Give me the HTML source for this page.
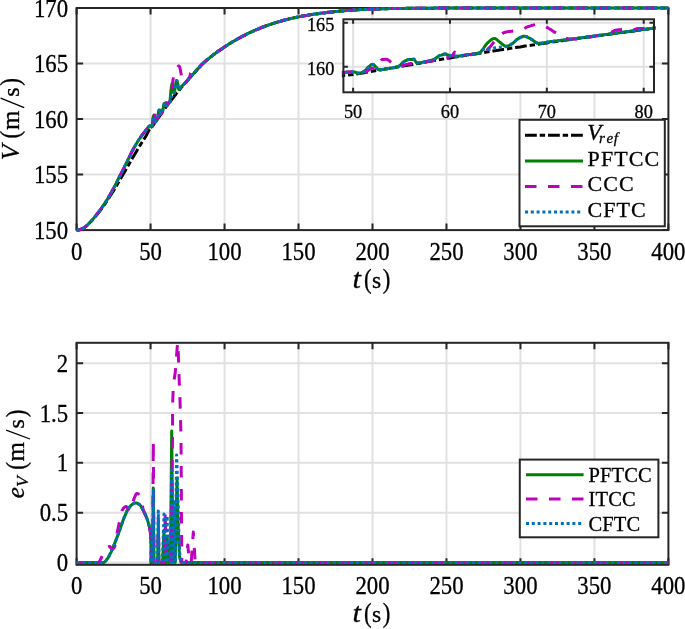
<!DOCTYPE html>
<html><head><meta charset="utf-8"><style>
html,body{margin:0;padding:0;background:#fff;}
body{width:685px;height:629px;overflow:hidden;position:relative;}
svg text{font-family:"Liberation Serif",serif;fill:#000;stroke:#000;stroke-width:0.3px;}
</style></head><body>
<svg width="685" height="629" viewBox="0 0 685 629" style="position:absolute;left:0;top:0;will-change:transform">
<rect width="685" height="629" fill="#fff"/>
<line x1="150.57" y1="8.00" x2="150.57" y2="230.10" stroke="#e1e1e1" stroke-width="2"/><line x1="224.55" y1="8.00" x2="224.55" y2="230.10" stroke="#e1e1e1" stroke-width="2"/><line x1="298.52" y1="8.00" x2="298.52" y2="230.10" stroke="#e1e1e1" stroke-width="2"/><line x1="372.50" y1="8.00" x2="372.50" y2="230.10" stroke="#e1e1e1" stroke-width="2"/><line x1="446.48" y1="8.00" x2="446.48" y2="230.10" stroke="#e1e1e1" stroke-width="2"/><line x1="520.45" y1="8.00" x2="520.45" y2="230.10" stroke="#e1e1e1" stroke-width="2"/><line x1="594.42" y1="8.00" x2="594.42" y2="230.10" stroke="#e1e1e1" stroke-width="2"/><line x1="76.60" y1="174.57" x2="668.40" y2="174.57" stroke="#e1e1e1" stroke-width="2"/><line x1="76.60" y1="119.05" x2="668.40" y2="119.05" stroke="#e1e1e1" stroke-width="2"/><line x1="76.60" y1="63.53" x2="668.40" y2="63.53" stroke="#e1e1e1" stroke-width="2"/>
<clipPath id="c1"><rect x="74.60" y="6.00" width="595.80" height="226.10"/></clipPath>
<path d="M76.60 230.10V223.60M76.60 8.00V14.50M150.57 230.10V223.60M150.57 8.00V14.50M224.55 230.10V223.60M224.55 8.00V14.50M298.52 230.10V223.60M298.52 8.00V14.50M372.50 230.10V223.60M372.50 8.00V14.50M446.48 230.10V223.60M446.48 8.00V14.50M520.45 230.10V223.60M520.45 8.00V14.50M594.42 230.10V223.60M594.42 8.00V14.50M668.40 230.10V223.60M668.40 8.00V14.50M76.60 230.10H83.10M668.40 230.10H661.90M76.60 174.57H83.10M668.40 174.57H661.90M76.60 119.05H83.10M668.40 119.05H661.90M76.60 63.53H83.10M668.40 63.53H661.90M76.60 8.00H83.10M668.40 8.00H661.90" stroke="#262626" stroke-width="2.00" fill="none"/><rect x="76.60" y="8.00" width="591.80" height="222.10" fill="none" stroke="#262626" stroke-width="2.00"/>
<g clip-path="url(#c1)">
<path d="M76.6 230.1L78.1 230.0L79.6 229.7L81.0 229.3L82.5 228.7L84.0 227.7L85.5 226.7L87.0 225.4L88.4 224.0L89.9 222.5L91.4 221.0L92.9 219.4L94.4 217.7L95.8 215.9L97.3 214.2L98.8 212.3L100.3 210.4L101.8 208.5L103.2 206.4L104.7 204.3L106.2 202.1L107.7 199.9L109.1 197.6L110.6 195.3L112.1 193.0L113.6 190.6L115.1 188.2L116.5 185.7L118.0 183.2L119.5 180.6L121.0 178.0L122.5 175.5L123.9 172.9L125.4 170.4L126.9 167.8L128.4 165.2L129.9 162.6L131.3 160.0L132.8 157.5L134.3 154.9L135.8 152.4L137.3 149.9L138.7 147.5L140.2 145.1L141.7 142.8L143.2 140.5L143.5 139.9L144.3 138.7L144.7 138.1L145.0 137.5L145.8 136.3L146.1 135.7L146.5 135.0L147.2 133.6L147.6 132.8L148.0 132.0L148.7 130.6L149.1 130.1L149.5 129.7L150.2 129.1L150.6 128.8L150.9 128.4L151.7 127.3L152.1 126.7L152.4 126.2L153.2 125.2L153.5 124.7L153.9 124.1L154.6 123.1L155.0 122.5L155.4 122.0L156.1 120.9L156.5 120.4L156.9 119.8L157.6 118.8L158.0 118.3L158.3 117.8L159.1 116.8L159.5 116.3L159.8 115.9L160.6 114.8L160.9 114.3L161.3 113.7L162.0 112.5L162.4 112.0L162.8 111.4L163.5 110.3L163.9 109.8L164.3 109.3L165.0 108.3L165.4 107.9L165.7 107.4L166.5 106.4L166.8 105.9L167.2 105.4L168.0 104.5L168.3 104.0L168.7 103.5L169.4 102.5L169.8 102.0L170.2 101.6L170.9 100.6L171.3 100.1L171.7 99.6L172.4 98.6L172.8 98.1L173.1 97.7L173.9 96.7L174.2 96.3L174.6 95.8L175.4 94.9L175.7 94.4L176.1 93.9L176.8 93.0L177.2 92.6L177.6 92.1L178.3 91.2L178.7 90.7L179.1 90.3L179.8 89.4L180.2 88.9L180.5 88.5L181.3 87.6L181.6 87.1L182.0 86.7L182.8 85.8L183.1 85.4L183.5 84.9L184.2 84.1L184.6 83.6L185.0 83.2L185.7 82.4L186.1 82.0L186.5 81.6L187.2 80.7L187.6 80.3L187.9 79.9L188.7 79.1L189.0 78.7L189.4 78.3L190.2 77.5L190.5 77.0L190.9 76.6L191.6 75.8L192.0 75.4L192.4 75.0L193.1 74.2L193.5 73.8L193.9 73.4L194.6 72.6L195.0 72.2L195.3 71.8L196.1 71.0L196.4 70.6L196.8 70.1L197.5 69.3L197.9 68.9L198.3 68.4L199.0 67.6L199.4 67.2L199.8 66.7L200.5 65.9L200.9 65.5L201.2 65.1L202.0 64.3L202.4 64.0L203.8 62.6L205.3 61.3L206.8 60.0L208.3 58.8L209.8 57.6L211.2 56.5L212.7 55.3L214.2 54.2L215.7 53.1L217.2 52.0L218.6 50.9L220.1 49.9L221.6 48.9L223.1 47.9L224.5 46.9L226.0 45.9L227.5 45.0L229.0 44.0L230.5 43.1L231.9 42.2L233.4 41.3L234.9 40.5L236.4 39.6L237.9 38.8L239.3 38.0L240.8 37.2L242.3 36.4L243.8 35.6L245.3 34.9L246.7 34.1L248.2 33.4L249.7 32.7L251.2 32.0L252.7 31.3L254.1 30.7L255.6 30.0L257.1 29.4L258.6 28.8L260.1 28.2L261.5 27.6L263.0 27.0L264.5 26.5L266.0 25.9L267.5 25.4L268.9 24.9L270.4 24.4L271.9 23.9L273.4 23.4L274.9 22.9L276.3 22.5L277.8 22.0L279.3 21.6L280.8 21.1L282.3 20.7L283.7 20.3L285.2 19.9L286.7 19.6L288.2 19.2L289.6 18.8L291.1 18.5L292.6 18.1L294.1 17.8L295.6 17.5L297.0 17.2L298.5 16.9L300.0 16.6L301.5 16.3L303.0 16.0L304.4 15.8L305.9 15.5L307.4 15.3L308.9 15.0L310.4 14.8L311.8 14.6L313.3 14.3L314.8 14.1L316.3 13.9L317.8 13.7L319.2 13.5L320.7 13.3L322.2 13.1L323.7 12.9L325.2 12.7L326.6 12.5L328.1 12.3L329.6 12.2L331.1 12.0L332.6 11.9L334.0 11.7L335.5 11.6L337.0 11.4L338.5 11.3L340.0 11.1L341.4 11.0L342.9 10.9L344.4 10.8L345.9 10.6L347.3 10.5L348.8 10.4L350.3 10.3L351.8 10.2L353.3 10.1L354.7 10.0L356.2 9.9L357.7 9.8L359.2 9.7L360.7 9.6L362.1 9.5L363.6 9.5L365.1 9.4L366.6 9.3L368.1 9.3L369.5 9.2L371.0 9.2L372.5 9.1L374.0 9.1L375.5 9.0L376.9 9.0L378.4 8.9L379.9 8.9L381.4 8.8L382.9 8.8L384.3 8.7L385.8 8.7L387.3 8.7L388.8 8.6L390.3 8.6L391.7 8.6L393.2 8.5L394.7 8.5L396.2 8.5L397.7 8.5L399.1 8.4L400.6 8.4L402.1 8.4L403.6 8.4L405.0 8.4L406.5 8.3L408.0 8.3L409.5 8.3L411.0 8.3L412.4 8.3L413.9 8.3L415.4 8.3L416.9 8.3L418.4 8.2L419.8 8.2L421.3 8.2L422.8 8.2L424.3 8.2L425.8 8.2L427.2 8.2L428.7 8.2L430.2 8.2L431.7 8.2L433.2 8.2L434.6 8.1L436.1 8.1L437.6 8.1L439.1 8.1L440.6 8.1L442.0 8.1L443.5 8.1L445.0 8.1L446.5 8.1L448.0 8.0L449.4 8.0L450.9 8.0L452.4 8.0L453.9 8.0L455.4 8.0L456.8 8.0L458.3 8.0L459.8 8.0L461.3 8.0L462.7 8.0L464.2 8.0L465.7 8.0L467.2 8.0L468.7 8.0L470.1 8.0L471.6 8.0L473.1 8.0L474.6 8.0L476.1 8.0L477.5 8.0L479.0 8.0L480.5 8.0L482.0 8.0L483.5 8.0L484.9 8.0L486.4 8.0L487.9 8.0L489.4 8.0L490.9 8.0L492.3 8.0L493.8 8.0L495.3 8.0L496.8 8.0L498.3 8.0L499.7 8.0L501.2 8.0L502.7 8.0L504.2 8.0L505.7 8.0L507.1 8.0L508.6 8.0L510.1 8.0L511.6 8.0L513.1 8.0L514.5 8.0L516.0 8.0L517.5 8.0L519.0 8.0L520.5 8.0L521.9 8.0L523.4 8.0L524.9 8.0L526.4 8.0L527.8 8.0L529.3 8.0L530.8 8.0L532.3 8.0L533.8 8.0L535.2 8.0L536.7 8.0L538.2 8.0L539.7 8.0L541.2 8.0L542.6 8.0L544.1 8.0L545.6 8.0L547.1 8.0L548.6 8.0L550.0 8.0L551.5 8.0L553.0 8.0L554.5 8.0L556.0 8.0L557.4 8.0L558.9 8.0L560.4 8.0L561.9 8.0L563.4 8.0L564.8 8.0L566.3 8.0L567.8 8.0L569.3 8.0L570.8 8.0L572.2 8.0L573.7 8.0L575.2 8.0L576.7 8.0L578.2 8.0L579.6 8.0L581.1 8.0L582.6 8.0L584.1 8.0L585.5 8.0L587.0 8.0L588.5 8.0L590.0 8.0L591.5 8.0L592.9 8.0L594.4 8.0L595.9 8.0L597.4 8.0L598.9 8.0L600.3 8.0L601.8 8.0L603.3 8.0L604.8 8.0L606.3 8.0L607.7 8.0L609.2 8.0L610.7 8.0L612.2 8.0L613.7 8.0L615.1 8.0L616.6 8.0L618.1 8.0L619.6 8.0L621.1 8.0L622.5 8.0L624.0 8.0L625.5 8.0L627.0 8.0L628.5 8.0L629.9 8.0L631.4 8.0L632.9 8.0L634.4 8.0L635.9 8.0L637.3 8.0L638.8 8.0L640.3 8.0L641.8 8.0L643.2 8.0L644.7 8.0L646.2 8.0L647.7 8.0L649.2 8.0L650.6 8.0L652.1 8.0L653.6 8.0L655.1 8.0L656.6 8.0L658.0 8.0L659.5 8.0L661.0 8.0L662.5 8.0L664.0 8.0L665.4 8.0L666.9 8.0L668.4 8.0" fill="none" stroke="#000000" stroke-width="3.00" stroke-linejoin="round" stroke-linecap="butt" stroke-dasharray="11.8 2.9 5.4 2.9"/>
<path d="M76.6 230.1L78.1 230.0L79.6 229.7L81.0 229.3L82.5 228.7L84.0 227.7L85.5 226.7L87.0 225.5L88.4 224.0L89.9 222.5L91.4 220.9L92.9 219.2L94.4 217.4L95.8 215.6L97.3 213.7L98.8 211.8L100.3 209.8L101.8 207.7L103.2 205.6L104.7 203.4L106.2 201.1L107.7 198.8L109.1 196.3L110.6 193.8L112.1 191.1L113.6 188.3L115.1 185.5L116.5 182.6L118.0 179.7L119.5 176.7L121.0 173.8L122.5 170.9L123.9 168.0L125.4 165.0L126.9 162.0L128.4 158.8L129.9 155.8L131.3 152.9L132.8 150.0L134.3 147.3L135.8 144.7L137.3 142.2L138.7 139.9L140.2 137.8L141.7 135.7L143.2 133.7L143.5 133.3L143.8 132.9L144.1 132.6L144.4 132.2L144.7 131.8L145.0 131.4L145.2 131.1L145.5 130.7L145.8 130.3L146.1 130.0L146.4 129.6L146.7 129.2L147.0 128.9L147.3 128.4L147.6 128.0L147.9 127.6L148.2 127.2L148.5 126.8L148.8 126.5L149.1 126.3L149.4 126.1L149.7 125.9L150.0 125.8L150.3 125.7L150.6 125.6L150.9 125.8L151.2 126.6L151.5 127.1L151.8 126.7L152.1 125.8L152.4 124.5L152.6 121.7L152.9 119.3L153.2 117.1L153.5 115.9L153.8 117.2L154.1 119.8L154.4 122.8L154.7 122.8L155.0 122.5L155.3 122.2L155.6 121.8L155.9 121.4L156.2 121.0L156.5 120.6L156.8 120.2L157.1 119.7L157.4 119.1L157.7 117.8L158.0 115.2L158.3 113.0L158.6 111.6L158.9 110.4L159.2 109.9L159.5 109.9L159.7 109.9L160.0 111.4L160.3 114.3L160.6 114.1L160.9 113.7L161.2 113.2L161.5 112.7L161.8 112.2L162.1 111.7L162.4 111.0L162.7 110.3L163.0 109.3L163.3 107.7L163.6 105.9L163.9 104.7L164.2 103.9L164.5 103.3L164.8 103.3L165.1 104.2L165.4 104.8L165.7 105.2L166.0 105.5L166.3 105.7L166.6 105.7L166.8 105.5L167.1 105.1L167.4 104.6L167.7 104.2L168.0 103.9L168.3 103.7L168.6 103.4L168.9 103.1L169.2 102.8L169.5 102.3L169.8 101.6L170.1 100.0L170.4 96.8L170.7 93.3L171.0 90.0L171.3 87.7L171.6 85.5L171.9 84.0L172.2 83.4L172.5 84.5L172.8 86.6L173.1 88.5L173.4 90.4L173.7 92.3L174.0 93.2L174.2 92.8L174.5 91.6L174.8 90.1L175.1 88.2L175.4 85.9L175.7 84.0L176.0 82.6L176.3 81.3L176.6 80.6L176.9 80.8L177.2 81.8L177.5 83.1L177.8 84.4L178.1 86.1L178.4 87.9L178.7 89.1L179.0 89.5L179.3 89.3L179.6 89.0L179.9 88.6L180.2 88.1L180.5 87.7L180.8 87.3L181.1 87.0L181.3 86.7L181.6 86.4L181.9 86.1L182.2 85.9L182.5 85.6L182.8 85.3L183.1 85.0L183.4 84.7L183.7 84.4L184.0 84.1L184.3 83.8L184.6 83.5L184.9 83.1L185.2 82.8L185.5 82.5L185.8 82.2L186.1 81.8L186.4 81.5L186.7 81.2L187.0 80.8L187.3 80.5L187.6 80.2L187.9 79.9L188.2 79.5L188.5 79.2L188.7 78.9L189.0 78.6L189.3 78.2L189.6 77.9L189.9 77.6L190.2 77.3L190.5 76.9L190.8 76.6L191.1 76.3L191.4 76.0L191.7 75.6L192.0 75.3L192.3 75.0L192.6 74.7L192.9 74.3L193.2 74.0L193.5 73.7L193.8 73.4L194.1 73.0L194.4 72.7L194.7 72.4L195.0 72.0L195.3 71.7L195.6 71.4L195.8 71.1L196.1 70.7L196.4 70.4L196.7 70.1L197.0 69.8L197.3 69.4L197.6 69.1L197.9 68.8L198.2 68.4L198.5 68.1L198.8 67.8L199.1 67.4L199.4 67.1L199.7 66.8L200.0 66.4L200.3 66.1L200.6 65.8L200.9 65.5L201.2 65.2L201.5 64.9L201.8 64.6L202.1 64.3L202.4 64.0L203.8 62.6L205.3 61.3L206.8 60.0L208.3 58.8L209.8 57.6L211.2 56.5L212.7 55.3L214.2 54.2L215.7 53.1L217.2 52.0L218.6 50.9L220.1 49.9L221.6 48.9L223.1 47.9L224.5 46.9L226.0 45.9L227.5 45.0L229.0 44.0L230.5 43.1L231.9 42.2L233.4 41.3L234.9 40.5L236.4 39.6L237.9 38.8L239.3 38.0L240.8 37.2L242.3 36.4L243.8 35.6L245.3 34.9L246.7 34.1L248.2 33.4L249.7 32.7L251.2 32.0L252.7 31.3L254.1 30.7L255.6 30.0L257.1 29.4L258.6 28.8L260.1 28.2L261.5 27.6L263.0 27.0L264.5 26.5L266.0 25.9L267.5 25.4L268.9 24.9L270.4 24.4L271.9 23.9L273.4 23.4L274.9 22.9L276.3 22.5L277.8 22.0L279.3 21.6L280.8 21.1L282.3 20.7L283.7 20.3L285.2 19.9L286.7 19.6L288.2 19.2L289.6 18.8L291.1 18.5L292.6 18.1L294.1 17.8L295.6 17.5L297.0 17.2L298.5 16.9L300.0 16.6L301.5 16.3L303.0 16.0L304.4 15.8L305.9 15.5L307.4 15.3L308.9 15.0L310.4 14.8L311.8 14.6L313.3 14.3L314.8 14.1L316.3 13.9L317.8 13.7L319.2 13.5L320.7 13.3L322.2 13.1L323.7 12.9L325.2 12.7L326.6 12.5L328.1 12.3L329.6 12.2L331.1 12.0L332.6 11.9L334.0 11.7L335.5 11.6L337.0 11.4L338.5 11.3L340.0 11.1L341.4 11.0L342.9 10.9L344.4 10.8L345.9 10.6L347.3 10.5L348.8 10.4L350.3 10.3L351.8 10.2L353.3 10.1L354.7 10.0L356.2 9.9L357.7 9.8L359.2 9.7L360.7 9.6L362.1 9.5L363.6 9.5L365.1 9.4L366.6 9.3L368.1 9.3L369.5 9.2L371.0 9.2L372.5 9.1L374.0 9.1L375.5 9.0L376.9 9.0L378.4 8.9L379.9 8.9L381.4 8.8L382.9 8.8L384.3 8.7L385.8 8.7L387.3 8.7L388.8 8.6L390.3 8.6L391.7 8.6L393.2 8.5L394.7 8.5L396.2 8.5L397.7 8.5L399.1 8.4L400.6 8.4L402.1 8.4L403.6 8.4L405.0 8.4L406.5 8.3L408.0 8.3L409.5 8.3L411.0 8.3L412.4 8.3L413.9 8.3L415.4 8.3L416.9 8.3L418.4 8.2L419.8 8.2L421.3 8.2L422.8 8.2L424.3 8.2L425.8 8.2L427.2 8.2L428.7 8.2L430.2 8.2L431.7 8.2L433.2 8.2L434.6 8.1L436.1 8.1L437.6 8.1L439.1 8.1L440.6 8.1L442.0 8.1L443.5 8.1L445.0 8.1L446.5 8.1L448.0 8.0L449.4 8.0L450.9 8.0L452.4 8.0L453.9 8.0L455.4 8.0L456.8 8.0L458.3 8.0L459.8 8.0L461.3 8.0L462.7 8.0L464.2 8.0L465.7 8.0L467.2 8.0L468.7 8.0L470.1 8.0L471.6 8.0L473.1 8.0L474.6 8.0L476.1 8.0L477.5 8.0L479.0 8.0L480.5 8.0L482.0 8.0L483.5 8.0L484.9 8.0L486.4 8.0L487.9 8.0L489.4 8.0L490.9 8.0L492.3 8.0L493.8 8.0L495.3 8.0L496.8 8.0L498.3 8.0L499.7 8.0L501.2 8.0L502.7 8.0L504.2 8.0L505.7 8.0L507.1 8.0L508.6 8.0L510.1 8.0L511.6 8.0L513.1 8.0L514.5 8.0L516.0 8.0L517.5 8.0L519.0 8.0L520.5 8.0L521.9 8.0L523.4 8.0L524.9 8.0L526.4 8.0L527.8 8.0L529.3 8.0L530.8 8.0L532.3 8.0L533.8 8.0L535.2 8.0L536.7 8.0L538.2 8.0L539.7 8.0L541.2 8.0L542.6 8.0L544.1 8.0L545.6 8.0L547.1 8.0L548.6 8.0L550.0 8.0L551.5 8.0L553.0 8.0L554.5 8.0L556.0 8.0L557.4 8.0L558.9 8.0L560.4 8.0L561.9 8.0L563.4 8.0L564.8 8.0L566.3 8.0L567.8 8.0L569.3 8.0L570.8 8.0L572.2 8.0L573.7 8.0L575.2 8.0L576.7 8.0L578.2 8.0L579.6 8.0L581.1 8.0L582.6 8.0L584.1 8.0L585.5 8.0L587.0 8.0L588.5 8.0L590.0 8.0L591.5 8.0L592.9 8.0L594.4 8.0L595.9 8.0L597.4 8.0L598.9 8.0L600.3 8.0L601.8 8.0L603.3 8.0L604.8 8.0L606.3 8.0L607.7 8.0L609.2 8.0L610.7 8.0L612.2 8.0L613.7 8.0L615.1 8.0L616.6 8.0L618.1 8.0L619.6 8.0L621.1 8.0L622.5 8.0L624.0 8.0L625.5 8.0L627.0 8.0L628.5 8.0L629.9 8.0L631.4 8.0L632.9 8.0L634.4 8.0L635.9 8.0L637.3 8.0L638.8 8.0L640.3 8.0L641.8 8.0L643.2 8.0L644.7 8.0L646.2 8.0L647.7 8.0L649.2 8.0L650.6 8.0L652.1 8.0L653.6 8.0L655.1 8.0L656.6 8.0L658.0 8.0L659.5 8.0L661.0 8.0L662.5 8.0L664.0 8.0L665.4 8.0L666.9 8.0L668.4 8.0" fill="none" stroke="#008000" stroke-width="3.00" stroke-linejoin="round" stroke-linecap="butt"/>
<path d="M76.6 230.1L78.1 230.0L79.6 229.7L81.0 229.3L82.5 228.7L84.0 227.7L85.5 226.7L87.0 225.5L88.4 224.0L89.9 222.5L91.4 220.9L92.9 219.2L94.4 217.4L95.8 215.6L97.3 213.7L98.8 211.8L100.3 209.8L101.8 207.7L103.2 205.6L104.7 203.4L106.2 201.1L107.7 198.8L109.1 196.3L110.6 193.8L112.1 191.1L113.6 188.3L115.1 185.5L116.5 182.6L118.0 179.7L119.5 176.7L121.0 173.8L122.5 170.9L123.9 168.0L125.4 165.0L126.9 162.0L128.4 158.8L129.9 155.8L131.3 152.9L132.8 150.0L134.3 147.3L135.8 144.7L137.3 142.2L138.7 139.9L140.2 137.8L141.7 135.7L143.2 133.7L143.5 133.3L143.8 132.9L144.1 132.6L144.4 132.2L144.7 131.8L145.0 131.5L145.2 131.1L145.5 130.7L145.8 130.4L146.1 130.0L146.4 129.6L146.7 129.2L147.0 128.8L147.3 128.4L147.6 127.9L147.9 127.5L148.2 127.0L148.5 126.6L148.8 126.3L149.1 126.1L149.4 125.9L149.7 125.7L150.0 125.5L150.3 125.4L150.6 125.4L150.9 125.6L151.2 126.7L151.5 127.2L151.8 127.0L152.1 126.6L152.4 125.9L152.6 124.7L152.9 123.2L153.2 121.5L153.5 120.9L153.8 121.6L154.1 121.9L154.4 117.3L154.7 112.7L155.0 110.0L155.3 109.7L155.6 109.6L155.9 110.4L156.2 112.1L156.5 114.1L156.8 116.4L157.1 117.9L157.4 118.7L157.7 118.7L158.0 118.0L158.3 117.1L158.6 116.4L158.9 115.8L159.2 115.2L159.5 114.9L159.7 114.7L160.0 114.6L160.3 114.5L160.6 114.3L160.9 114.0L161.2 113.6L161.5 113.2L161.8 112.8L162.1 112.3L162.4 111.8L162.7 111.3L163.0 110.9L163.3 110.4L163.6 110.0L163.9 109.6L164.2 109.1L164.5 108.6L164.8 108.0L165.1 107.3L165.4 106.4L165.7 105.1L166.0 102.0L166.3 101.0L166.6 105.8L166.8 105.6L167.1 105.1L167.4 104.6L167.7 104.2L168.0 103.9L168.3 103.6L168.6 103.3L168.9 103.0L169.2 102.6L169.5 102.2L169.8 101.8L170.1 101.3L170.4 100.7L170.7 99.9L171.0 98.3L171.3 95.9L171.6 93.2L171.9 89.9L172.2 86.6L172.5 83.9L172.8 81.4L173.1 79.3L173.4 77.3L173.7 75.8L174.0 75.2L174.2 74.8L174.5 74.5L174.8 74.2L175.1 73.9L175.4 73.6L175.7 73.2L176.0 72.7L176.3 72.2L176.6 71.3L176.9 69.9L177.2 68.7L177.5 67.9L177.8 67.1L178.1 66.5L178.4 66.1L178.7 65.9L179.0 66.0L179.3 66.4L179.6 66.8L179.9 67.7L180.2 69.2L180.5 70.8L180.8 72.3L181.1 73.8L181.3 75.4L181.6 76.9L181.9 78.3L182.2 79.8L182.5 81.3L182.8 82.5L183.1 83.2L183.4 83.7L183.7 84.0L184.0 84.2L184.3 84.1L184.6 84.0L184.9 83.8L185.2 83.6L185.5 83.3L185.8 82.9L186.1 82.5L186.4 82.1L186.7 81.7L187.0 81.2L187.3 80.8L187.6 80.3L187.9 79.9L188.2 79.4L188.5 79.0L188.7 78.6L189.0 78.2L189.3 77.7L189.6 77.2L189.9 76.3L190.2 74.8L190.5 73.2L190.8 72.6L191.1 72.5L191.4 72.3L191.7 72.2L192.0 72.2L192.3 72.6L192.6 73.2L192.9 73.5L193.2 73.1L193.5 72.3L193.8 71.4L194.1 71.0L194.4 70.8L194.7 70.7L195.0 70.7L195.3 70.6L195.6 70.6L195.8 70.5L196.1 70.4L196.4 70.4L196.7 70.2L197.0 70.1L197.3 69.9L197.6 69.6L197.9 69.3L198.2 69.0L198.5 68.7L198.8 68.4L199.1 68.0L199.4 67.6L199.7 67.2L200.0 66.8L200.3 66.5L200.6 66.1L200.9 65.7L201.2 65.3L201.5 64.9L201.8 64.6L202.1 64.3L202.4 64.0L203.8 62.6L205.3 61.3L206.8 60.0L208.3 58.8L209.8 57.6L211.2 56.5L212.7 55.3L214.2 54.2L215.7 53.1L217.2 52.0L218.6 50.9L220.1 49.9L221.6 48.9L223.1 47.9L224.5 46.9L226.0 45.9L227.5 45.0L229.0 44.0L230.5 43.1L231.9 42.2L233.4 41.3L234.9 40.5L236.4 39.6L237.9 38.8L239.3 38.0L240.8 37.2L242.3 36.4L243.8 35.6L245.3 34.9L246.7 34.1L248.2 33.4L249.7 32.7L251.2 32.0L252.7 31.3L254.1 30.7L255.6 30.0L257.1 29.4L258.6 28.8L260.1 28.2L261.5 27.6L263.0 27.0L264.5 26.5L266.0 25.9L267.5 25.4L268.9 24.9L270.4 24.4L271.9 23.9L273.4 23.4L274.9 22.9L276.3 22.5L277.8 22.0L279.3 21.6L280.8 21.1L282.3 20.7L283.7 20.3L285.2 19.9L286.7 19.6L288.2 19.2L289.6 18.8L291.1 18.5L292.6 18.1L294.1 17.8L295.6 17.5L297.0 17.2L298.5 16.9L300.0 16.6L301.5 16.3L303.0 16.0L304.4 15.8L305.9 15.5L307.4 15.3L308.9 15.0L310.4 14.8L311.8 14.6L313.3 14.3L314.8 14.1L316.3 13.9L317.8 13.7L319.2 13.5L320.7 13.3L322.2 13.1L323.7 12.9L325.2 12.7L326.6 12.5L328.1 12.3L329.6 12.2L331.1 12.0L332.6 11.9L334.0 11.7L335.5 11.6L337.0 11.4L338.5 11.3L340.0 11.1L341.4 11.0L342.9 10.9L344.4 10.8L345.9 10.6L347.3 10.5L348.8 10.4L350.3 10.3L351.8 10.2L353.3 10.1L354.7 10.0L356.2 9.9L357.7 9.8L359.2 9.7L360.7 9.6L362.1 9.5L363.6 9.5L365.1 9.4L366.6 9.3L368.1 9.3L369.5 9.2L371.0 9.2L372.5 9.1L374.0 9.1L375.5 9.0L376.9 9.0L378.4 8.9L379.9 8.9L381.4 8.8L382.9 8.8L384.3 8.7L385.8 8.7L387.3 8.7L388.8 8.6L390.3 8.6L391.7 8.6L393.2 8.5L394.7 8.5L396.2 8.5L397.7 8.5L399.1 8.4L400.6 8.4L402.1 8.4L403.6 8.4L405.0 8.4L406.5 8.3L408.0 8.3L409.5 8.3L411.0 8.3L412.4 8.3L413.9 8.3L415.4 8.3L416.9 8.3L418.4 8.2L419.8 8.2L421.3 8.2L422.8 8.2L424.3 8.2L425.8 8.2L427.2 8.2L428.7 8.2L430.2 8.2L431.7 8.2L433.2 8.2L434.6 8.1L436.1 8.1L437.6 8.1L439.1 8.1L440.6 8.1L442.0 8.1L443.5 8.1L445.0 8.1L446.5 8.1L448.0 8.0L449.4 8.0L450.9 8.0L452.4 8.0L453.9 8.0L455.4 8.0L456.8 8.0L458.3 8.0L459.8 8.0L461.3 8.0L462.7 8.0L464.2 8.0L465.7 8.0L467.2 8.0L468.7 8.0L470.1 8.0L471.6 8.0L473.1 8.0L474.6 8.0L476.1 8.0L477.5 8.0L479.0 8.0L480.5 8.0L482.0 8.0L483.5 8.0L484.9 8.0L486.4 8.0L487.9 8.0L489.4 8.0L490.9 8.0L492.3 8.0L493.8 8.0L495.3 8.0L496.8 8.0L498.3 8.0L499.7 8.0L501.2 8.0L502.7 8.0L504.2 8.0L505.7 8.0L507.1 8.0L508.6 8.0L510.1 8.0L511.6 8.0L513.1 8.0L514.5 8.0L516.0 8.0L517.5 8.0L519.0 8.0L520.5 8.0L521.9 8.0L523.4 8.0L524.9 8.0L526.4 8.0L527.8 8.0L529.3 8.0L530.8 8.0L532.3 8.0L533.8 8.0L535.2 8.0L536.7 8.0L538.2 8.0L539.7 8.0L541.2 8.0L542.6 8.0L544.1 8.0L545.6 8.0L547.1 8.0L548.6 8.0L550.0 8.0L551.5 8.0L553.0 8.0L554.5 8.0L556.0 8.0L557.4 8.0L558.9 8.0L560.4 8.0L561.9 8.0L563.4 8.0L564.8 8.0L566.3 8.0L567.8 8.0L569.3 8.0L570.8 8.0L572.2 8.0L573.7 8.0L575.2 8.0L576.7 8.0L578.2 8.0L579.6 8.0L581.1 8.0L582.6 8.0L584.1 8.0L585.5 8.0L587.0 8.0L588.5 8.0L590.0 8.0L591.5 8.0L592.9 8.0L594.4 8.0L595.9 8.0L597.4 8.0L598.9 8.0L600.3 8.0L601.8 8.0L603.3 8.0L604.8 8.0L606.3 8.0L607.7 8.0L609.2 8.0L610.7 8.0L612.2 8.0L613.7 8.0L615.1 8.0L616.6 8.0L618.1 8.0L619.6 8.0L621.1 8.0L622.5 8.0L624.0 8.0L625.5 8.0L627.0 8.0L628.5 8.0L629.9 8.0L631.4 8.0L632.9 8.0L634.4 8.0L635.9 8.0L637.3 8.0L638.8 8.0L640.3 8.0L641.8 8.0L643.2 8.0L644.7 8.0L646.2 8.0L647.7 8.0L649.2 8.0L650.6 8.0L652.1 8.0L653.6 8.0L655.1 8.0L656.6 8.0L658.0 8.0L659.5 8.0L661.0 8.0L662.5 8.0L664.0 8.0L665.4 8.0L666.9 8.0L668.4 8.0" fill="none" stroke="#bf00bf" stroke-width="3.00" stroke-linejoin="round" stroke-linecap="butt" stroke-dasharray="11.5 11.5"/>
<path d="M76.6 230.1L78.1 230.0L79.6 229.7L81.0 229.3L82.5 228.7L84.0 227.7L85.5 226.7L87.0 225.5L88.4 224.0L89.9 222.5L91.4 220.9L92.9 219.2L94.4 217.4L95.8 215.6L97.3 213.7L98.8 211.8L100.3 209.8L101.8 207.7L103.2 205.6L104.7 203.4L106.2 201.1L107.7 198.8L109.1 196.3L110.6 193.8L112.1 191.1L113.6 188.3L115.1 185.5L116.5 182.6L118.0 179.7L119.5 176.7L121.0 173.8L122.5 170.9L123.9 168.0L125.4 165.0L126.9 162.0L128.4 158.8L129.9 155.8L131.3 152.9L132.8 150.0L134.3 147.3L135.8 144.7L137.3 142.2L138.7 139.9L140.2 137.8L141.7 135.7L143.2 133.7L143.5 133.3L143.8 132.9L144.1 132.6L144.4 132.2L144.7 131.8L145.0 131.4L145.2 131.1L145.5 130.7L145.8 130.3L146.1 130.0L146.4 129.6L146.7 129.2L147.0 128.9L147.3 128.4L147.6 128.0L147.9 127.6L148.2 127.2L148.5 126.8L148.8 126.5L149.1 126.3L149.4 126.1L149.7 125.9L150.0 125.8L150.3 125.7L150.6 125.6L150.9 125.8L151.2 126.6L151.5 127.1L151.8 126.7L152.1 125.8L152.4 124.5L152.6 121.7L152.9 119.3L153.2 117.4L153.5 116.3L153.8 117.4L154.1 119.8L154.4 122.8L154.7 122.8L155.0 122.5L155.3 122.2L155.6 121.8L155.9 121.4L156.2 121.0L156.5 120.6L156.8 120.2L157.1 119.7L157.4 119.1L157.7 117.8L158.0 115.2L158.3 113.1L158.6 111.7L158.9 110.6L159.2 109.9L159.5 109.4L159.7 109.1L160.0 110.8L160.3 114.3L160.6 114.1L160.9 113.7L161.2 113.2L161.5 112.7L161.8 112.2L162.1 111.7L162.4 111.0L162.7 110.3L163.0 109.3L163.3 107.6L163.6 105.7L163.9 104.4L164.2 103.5L164.5 102.9L164.8 102.8L165.1 104.1L165.4 104.8L165.7 105.2L166.0 105.5L166.3 105.7L166.6 105.7L166.8 105.5L167.1 105.1L167.4 104.6L167.7 104.2L168.0 103.9L168.3 103.6L168.6 103.3L168.9 103.0L169.2 102.7L169.5 102.2L169.8 101.6L170.1 100.3L170.4 97.9L170.7 96.4L171.0 96.6L171.3 96.9L171.6 96.9L171.9 96.2L172.2 95.3L172.5 94.8L172.8 94.6L173.1 94.4L173.4 94.2L173.7 93.9L174.0 93.6L174.2 92.8L174.5 91.6L174.8 90.1L175.1 88.2L175.4 85.9L175.7 84.0L176.0 82.6L176.3 81.3L176.6 80.6L176.9 80.8L177.2 81.8L177.5 83.1L177.8 84.4L178.1 86.1L178.4 87.9L178.7 89.1L179.0 89.5L179.3 89.3L179.6 89.0L179.9 88.6L180.2 88.1L180.5 87.7L180.8 87.3L181.1 87.0L181.3 86.7L181.6 86.4L181.9 86.1L182.2 85.9L182.5 85.6L182.8 85.3L183.1 85.0L183.4 84.7L183.7 84.4L184.0 84.1L184.3 83.8L184.6 83.5L184.9 83.1L185.2 82.8L185.5 82.5L185.8 82.2L186.1 81.8L186.4 81.5L186.7 81.2L187.0 80.8L187.3 80.5L187.6 80.2L187.9 79.9L188.2 79.5L188.5 79.2L188.7 78.9L189.0 78.6L189.3 78.2L189.6 77.9L189.9 77.6L190.2 77.3L190.5 76.9L190.8 76.6L191.1 76.3L191.4 76.0L191.7 75.6L192.0 75.3L192.3 75.0L192.6 74.7L192.9 74.3L193.2 74.0L193.5 73.7L193.8 73.4L194.1 73.0L194.4 72.7L194.7 72.4L195.0 72.0L195.3 71.7L195.6 71.4L195.8 71.1L196.1 70.7L196.4 70.4L196.7 70.1L197.0 69.8L197.3 69.4L197.6 69.1L197.9 68.8L198.2 68.4L198.5 68.1L198.8 67.8L199.1 67.4L199.4 67.1L199.7 66.8L200.0 66.4L200.3 66.1L200.6 65.8L200.9 65.5L201.2 65.2L201.5 64.9L201.8 64.6L202.1 64.3L202.4 64.0L203.8 62.6L205.3 61.3L206.8 60.0L208.3 58.8L209.8 57.6L211.2 56.5L212.7 55.3L214.2 54.2L215.7 53.1L217.2 52.0L218.6 50.9L220.1 49.9L221.6 48.9L223.1 47.9L224.5 46.9L226.0 45.9L227.5 45.0L229.0 44.0L230.5 43.1L231.9 42.2L233.4 41.3L234.9 40.5L236.4 39.6L237.9 38.8L239.3 38.0L240.8 37.2L242.3 36.4L243.8 35.6L245.3 34.9L246.7 34.1L248.2 33.4L249.7 32.7L251.2 32.0L252.7 31.3L254.1 30.7L255.6 30.0L257.1 29.4L258.6 28.8L260.1 28.2L261.5 27.6L263.0 27.0L264.5 26.5L266.0 25.9L267.5 25.4L268.9 24.9L270.4 24.4L271.9 23.9L273.4 23.4L274.9 22.9L276.3 22.5L277.8 22.0L279.3 21.6L280.8 21.1L282.3 20.7L283.7 20.3L285.2 19.9L286.7 19.6L288.2 19.2L289.6 18.8L291.1 18.5L292.6 18.1L294.1 17.8L295.6 17.5L297.0 17.2L298.5 16.9L300.0 16.6L301.5 16.3L303.0 16.0L304.4 15.8L305.9 15.5L307.4 15.3L308.9 15.0L310.4 14.8L311.8 14.6L313.3 14.3L314.8 14.1L316.3 13.9L317.8 13.7L319.2 13.5L320.7 13.3L322.2 13.1L323.7 12.9L325.2 12.7L326.6 12.5L328.1 12.3L329.6 12.2L331.1 12.0L332.6 11.9L334.0 11.7L335.5 11.6L337.0 11.4L338.5 11.3L340.0 11.1L341.4 11.0L342.9 10.9L344.4 10.8L345.9 10.6L347.3 10.5L348.8 10.4L350.3 10.3L351.8 10.2L353.3 10.1L354.7 10.0L356.2 9.9L357.7 9.8L359.2 9.7L360.7 9.6L362.1 9.5L363.6 9.5L365.1 9.4L366.6 9.3L368.1 9.3L369.5 9.2L371.0 9.2L372.5 9.1L374.0 9.1L375.5 9.0L376.9 9.0L378.4 8.9L379.9 8.9L381.4 8.8L382.9 8.8L384.3 8.7L385.8 8.7L387.3 8.7L388.8 8.6L390.3 8.6L391.7 8.6L393.2 8.5L394.7 8.5L396.2 8.5L397.7 8.5L399.1 8.4L400.6 8.4L402.1 8.4L403.6 8.4L405.0 8.4L406.5 8.3L408.0 8.3L409.5 8.3L411.0 8.3L412.4 8.3L413.9 8.3L415.4 8.3L416.9 8.3L418.4 8.2L419.8 8.2L421.3 8.2L422.8 8.2L424.3 8.2L425.8 8.2L427.2 8.2L428.7 8.2L430.2 8.2L431.7 8.2L433.2 8.2L434.6 8.1L436.1 8.1L437.6 8.1L439.1 8.1L440.6 8.1L442.0 8.1L443.5 8.1L445.0 8.1L446.5 8.1L448.0 8.0L449.4 8.0L450.9 8.0L452.4 8.0L453.9 8.0L455.4 8.0L456.8 8.0L458.3 8.0L459.8 8.0L461.3 8.0L462.7 8.0L464.2 8.0L465.7 8.0L467.2 8.0L468.7 8.0L470.1 8.0L471.6 8.0L473.1 8.0L474.6 8.0L476.1 8.0L477.5 8.0L479.0 8.0L480.5 8.0L482.0 8.0L483.5 8.0L484.9 8.0L486.4 8.0L487.9 8.0L489.4 8.0L490.9 8.0L492.3 8.0L493.8 8.0L495.3 8.0L496.8 8.0L498.3 8.0L499.7 8.0L501.2 8.0L502.7 8.0L504.2 8.0L505.7 8.0L507.1 8.0L508.6 8.0L510.1 8.0L511.6 8.0L513.1 8.0L514.5 8.0L516.0 8.0L517.5 8.0L519.0 8.0L520.5 8.0L521.9 8.0L523.4 8.0L524.9 8.0L526.4 8.0L527.8 8.0L529.3 8.0L530.8 8.0L532.3 8.0L533.8 8.0L535.2 8.0L536.7 8.0L538.2 8.0L539.7 8.0L541.2 8.0L542.6 8.0L544.1 8.0L545.6 8.0L547.1 8.0L548.6 8.0L550.0 8.0L551.5 8.0L553.0 8.0L554.5 8.0L556.0 8.0L557.4 8.0L558.9 8.0L560.4 8.0L561.9 8.0L563.4 8.0L564.8 8.0L566.3 8.0L567.8 8.0L569.3 8.0L570.8 8.0L572.2 8.0L573.7 8.0L575.2 8.0L576.7 8.0L578.2 8.0L579.6 8.0L581.1 8.0L582.6 8.0L584.1 8.0L585.5 8.0L587.0 8.0L588.5 8.0L590.0 8.0L591.5 8.0L592.9 8.0L594.4 8.0L595.9 8.0L597.4 8.0L598.9 8.0L600.3 8.0L601.8 8.0L603.3 8.0L604.8 8.0L606.3 8.0L607.7 8.0L609.2 8.0L610.7 8.0L612.2 8.0L613.7 8.0L615.1 8.0L616.6 8.0L618.1 8.0L619.6 8.0L621.1 8.0L622.5 8.0L624.0 8.0L625.5 8.0L627.0 8.0L628.5 8.0L629.9 8.0L631.4 8.0L632.9 8.0L634.4 8.0L635.9 8.0L637.3 8.0L638.8 8.0L640.3 8.0L641.8 8.0L643.2 8.0L644.7 8.0L646.2 8.0L647.7 8.0L649.2 8.0L650.6 8.0L652.1 8.0L653.6 8.0L655.1 8.0L656.6 8.0L658.0 8.0L659.5 8.0L661.0 8.0L662.5 8.0L664.0 8.0L665.4 8.0L666.9 8.0L668.4 8.0" fill="none" stroke="#0072bd" stroke-width="3.00" stroke-linejoin="round" stroke-linecap="butt" stroke-dasharray="3 2.8"/>
</g>
<text transform="translate(76.60 259.70) scale(0.930 1)" text-anchor="middle" font-size="24.5">0</text>
<text transform="translate(150.57 259.70) scale(0.930 1)" text-anchor="middle" font-size="24.5">50</text>
<text transform="translate(224.55 259.70) scale(0.930 1)" text-anchor="middle" font-size="24.5">100</text>
<text transform="translate(298.52 259.70) scale(0.930 1)" text-anchor="middle" font-size="24.5">150</text>
<text transform="translate(372.50 259.70) scale(0.930 1)" text-anchor="middle" font-size="24.5">200</text>
<text transform="translate(446.48 259.70) scale(0.930 1)" text-anchor="middle" font-size="24.5">250</text>
<text transform="translate(520.45 259.70) scale(0.930 1)" text-anchor="middle" font-size="24.5">300</text>
<text transform="translate(594.42 259.70) scale(0.930 1)" text-anchor="middle" font-size="24.5">350</text>
<text transform="translate(668.40 259.70) scale(0.930 1)" text-anchor="middle" font-size="24.5">400</text>
<text transform="translate(68.10 238.60) scale(0.930 1)" text-anchor="end" font-size="24.5">150</text>
<text transform="translate(68.10 183.07) scale(0.930 1)" text-anchor="end" font-size="24.5">155</text>
<text transform="translate(68.10 127.55) scale(0.930 1)" text-anchor="end" font-size="24.5">160</text>
<text transform="translate(68.10 72.03) scale(0.930 1)" text-anchor="end" font-size="24.5">165</text>
<text transform="translate(68.10 16.50) scale(0.930 1)" text-anchor="end" font-size="24.5">170</text>
<text transform="translate(352.43 287.50) scale(1.100 1)" font-size="27.50" font-style="italic">t</text><text transform="translate(363.94 287.80) scale(0.850 1)" font-size="27.00">(</text><text transform="translate(372.00 287.50) scale(1.000 1)" font-size="23.50">s</text><text transform="translate(382.66 287.80) scale(0.850 1)" font-size="27.00">)</text>
<g transform="translate(18.70 160.00) rotate(-90)"><text transform="translate(-0.35 0.00) scale(1.000 1)" font-size="25.50" font-style="italic">V</text><text transform="translate(21.54 0.30) scale(0.850 1)" font-size="27.00">(</text><text transform="translate(30.10 0.00) scale(1.000 1)" font-size="25.00">m</text><text transform="translate(63.30 0.00) scale(1.000 1)" font-size="24.00">s</text><text transform="translate(74.16 0.30) scale(0.850 1)" font-size="27.00">)</text></g>
<line x1="24.2" y1="107.6" x2="0.6" y2="98.1" stroke="#000" stroke-width="1.3"/>
<rect x="519.50" y="119.80" width="145.30" height="106.50" fill="#fff" stroke="#262626" stroke-width="2"/>
<path d="M525.0 135.3L583.0 135.3" fill="none" stroke="#000000" stroke-width="3.00" stroke-linejoin="round" stroke-linecap="butt" stroke-dasharray="11.8 2.9 5.4 2.9"/>
<path d="M525.0 161.0L583.0 161.0" fill="none" stroke="#008000" stroke-width="3.00" stroke-linejoin="round" stroke-linecap="butt"/>
<text x="587.6" y="165.70" font-size="22" letter-spacing="1.05">PFTCC</text>
<path d="M525.0 186.5L583.0 186.5" fill="none" stroke="#bf00bf" stroke-width="3.00" stroke-linejoin="round" stroke-linecap="butt" stroke-dasharray="11.5 11.5"/>
<text x="587.6" y="191.20" font-size="22" letter-spacing="1.05">CCC</text>
<path d="M525.0 212.0L583.0 212.0" fill="none" stroke="#0072bd" stroke-width="3.00" stroke-linejoin="round" stroke-linecap="butt" stroke-dasharray="3 2.8"/>
<text x="587.6" y="216.70" font-size="22" letter-spacing="1.05">CFTC</text>
<text transform="translate(587.15 140.40) scale(1.000 1)" font-size="23.00" font-style="italic">V</text>
<text transform="translate(599.10 143.30) scale(1.000 1)" font-size="15.00" font-style="italic">r</text><text transform="translate(606.50 143.30) scale(1.000 1)" font-size="15.00" font-style="italic">e</text><text transform="translate(613.75 143.30) scale(1.000 1)" font-size="15.00" font-style="italic">f</text>
<rect x="343.40" y="19.30" width="310.60" height="73.00" fill="#fff"/>
<line x1="353.10" y1="19.30" x2="353.10" y2="92.30" stroke="#e1e1e1" stroke-width="2"/><line x1="449.97" y1="19.30" x2="449.97" y2="92.30" stroke="#e1e1e1" stroke-width="2"/><line x1="546.84" y1="19.30" x2="546.84" y2="92.30" stroke="#e1e1e1" stroke-width="2"/><line x1="643.71" y1="19.30" x2="643.71" y2="92.30" stroke="#e1e1e1" stroke-width="2"/><line x1="343.40" y1="66.80" x2="654.00" y2="66.80" stroke="#e1e1e1" stroke-width="2"/><line x1="343.40" y1="22.70" x2="654.00" y2="22.70" stroke="#e1e1e1" stroke-width="2"/>
<clipPath id="ci"><rect x="341.90" y="17.80" width="313.60" height="76.00"/></clipPath>
<g clip-path="url(#ci)">
<path d="M333.7 77.8L336.1 77.1L338.6 76.5L341.0 75.9L343.4 75.5L345.8 75.2L348.3 75.0L350.7 74.8L353.1 74.5L355.5 74.2L357.9 73.8L360.4 73.3L362.8 72.9L365.2 72.5L367.6 72.1L370.1 71.7L372.5 71.2L374.9 70.8L377.3 70.4L379.7 70.0L382.2 69.6L384.6 69.1L387.0 68.7L389.4 68.3L391.8 67.8L394.3 67.4L396.7 67.0L399.1 66.6L401.5 66.2L404.0 65.8L406.4 65.4L408.8 65.0L411.2 64.7L413.6 64.3L416.1 63.9L418.5 63.4L420.9 63.0L423.3 62.6L425.8 62.1L428.2 61.6L430.6 61.2L433.0 60.7L435.4 60.3L437.9 59.9L440.3 59.5L442.7 59.1L445.1 58.7L447.5 58.3L450.0 57.9L452.4 57.5L454.8 57.1L457.2 56.7L459.7 56.4L462.1 56.0L464.5 55.6L466.9 55.2L469.3 54.8L471.8 54.4L474.2 54.1L476.6 53.7L479.0 53.3L481.5 52.9L483.9 52.5L486.3 52.1L488.7 51.7L491.1 51.3L493.6 50.9L496.0 50.6L498.4 50.2L500.8 49.8L503.2 49.4L505.7 49.1L508.1 48.7L510.5 48.3L512.9 48.0L515.4 47.6L517.8 47.2L520.2 46.9L522.6 46.5L525.0 46.1L527.5 45.8L529.9 45.4L532.3 45.0L534.7 44.7L537.2 44.3L539.6 44.0L542.0 43.6L544.4 43.2L546.8 42.9L549.3 42.5L551.7 42.2L554.1 41.8L556.5 41.4L558.9 41.1L561.4 40.7L563.8 40.4L566.2 40.0L568.6 39.7L571.1 39.4L573.5 39.0L575.9 38.7L578.3 38.3L580.7 38.0L583.2 37.7L585.6 37.3L588.0 37.0L590.4 36.7L592.9 36.4L595.3 36.0L597.7 35.7L600.1 35.4L602.5 35.1L605.0 34.7L607.4 34.4L609.8 34.1L612.2 33.8L614.6 33.4L617.1 33.1L619.5 32.8L621.9 32.5L624.3 32.2L626.8 31.8L629.2 31.5L631.6 31.2L634.0 30.9L636.4 30.5L638.9 30.2L641.3 29.9L643.7 29.6L646.1 29.3L648.6 28.9L651.0 28.6L653.4 28.3L655.8 28.0L658.2 27.6L660.7 27.3L663.1 27.0" fill="none" stroke="#000000" stroke-width="3.00" stroke-linejoin="round" stroke-linecap="butt" stroke-dasharray="11.8 2.9 5.4 2.9"/>
<path d="M333.7 73.9L334.7 73.8L335.7 73.6L336.6 73.4L337.6 73.3L338.6 73.1L339.5 73.0L340.5 72.9L341.5 72.7L342.4 72.6L343.4 72.6L344.4 72.5L345.4 72.4L346.3 72.3L347.3 72.3L348.3 72.2L349.2 72.1L350.2 72.1L351.2 72.1L352.1 72.0L353.1 72.0L354.1 72.0L355.0 72.1L356.0 72.5L357.0 72.8L357.9 73.1L358.9 73.2L359.9 73.1L360.8 72.9L361.8 72.6L362.8 72.2L363.8 71.7L364.7 71.1L365.7 70.1L366.7 68.9L367.6 67.8L368.6 67.0L369.6 66.1L370.5 65.3L371.5 64.6L372.5 64.3L373.4 64.5L374.4 65.3L375.4 66.4L376.3 67.4L377.3 68.8L378.3 69.8L379.3 69.8L380.2 69.7L381.2 69.7L382.2 69.6L383.1 69.4L384.1 69.3L385.1 69.1L386.0 69.0L387.0 68.8L388.0 68.6L388.9 68.5L389.9 68.3L390.9 68.2L391.8 68.0L392.8 67.9L393.8 67.7L394.8 67.6L395.7 67.4L396.7 67.1L397.7 66.8L398.6 66.5L399.6 65.8L400.6 64.8L401.5 63.7L402.5 62.7L403.5 62.0L404.4 61.4L405.4 60.8L406.4 60.3L407.3 59.9L408.3 59.6L409.3 59.5L410.3 59.5L411.2 59.5L412.2 59.5L413.2 59.6L414.1 59.7L415.1 60.7L416.1 62.3L417.0 63.0L418.0 63.0L419.0 62.9L419.9 62.7L420.9 62.6L421.9 62.4L422.8 62.2L423.8 61.9L424.8 61.7L425.8 61.5L426.7 61.4L427.7 61.1L428.7 60.9L429.6 60.7L430.6 60.4L431.6 60.2L432.5 59.8L433.5 59.5L434.5 59.1L435.4 58.5L436.4 57.8L437.4 57.1L438.3 56.4L439.3 55.8L440.3 55.4L441.3 55.1L442.2 54.8L443.2 54.5L444.2 54.3L445.1 54.2L446.1 54.3L447.1 54.6L448.0 55.0L449.0 55.3L450.0 55.5L450.9 55.6L451.9 55.8L452.9 55.9L453.8 56.0L454.8 56.1L455.8 56.2L456.8 56.2L457.7 56.2L458.7 56.1L459.7 56.0L460.6 55.9L461.6 55.7L462.6 55.5L463.5 55.3L464.5 55.2L465.5 55.0L466.4 54.9L467.4 54.8L468.4 54.7L469.3 54.6L470.3 54.5L471.3 54.4L472.3 54.3L473.2 54.2L474.2 54.0L475.2 53.9L476.1 53.7L477.1 53.5L478.1 53.3L479.0 53.0L480.0 52.6L481.0 51.7L481.9 50.4L482.9 49.1L483.9 47.8L484.8 46.3L485.8 44.9L486.8 43.7L487.7 42.8L488.7 41.9L489.7 41.0L490.7 40.2L491.6 39.5L492.6 38.9L493.6 38.6L494.5 38.5L495.5 38.8L496.5 39.4L497.4 40.1L498.4 41.0L499.4 41.8L500.3 42.5L501.3 43.3L502.3 44.1L503.2 44.9L504.2 45.5L505.2 46.0L506.2 46.3L507.1 46.2L508.1 46.0L509.1 45.5L510.0 45.0L511.0 44.4L512.0 43.8L512.9 43.2L513.9 42.3L514.9 41.4L515.8 40.5L516.8 39.6L517.8 38.9L518.7 38.4L519.7 37.8L520.7 37.3L521.7 36.8L522.6 36.5L523.6 36.2L524.6 36.2L525.5 36.4L526.5 36.7L527.5 37.2L528.4 37.7L529.4 38.2L530.4 38.7L531.3 39.3L532.3 39.9L533.3 40.6L534.2 41.4L535.2 42.0L536.2 42.6L537.2 43.0L538.1 43.3L539.1 43.3L540.1 43.2L541.0 43.2L542.0 43.1L543.0 42.9L543.9 42.8L544.9 42.6L545.9 42.4L546.8 42.2L547.8 42.0L548.8 41.9L549.7 41.7L550.7 41.6L551.7 41.5L552.7 41.4L553.6 41.2L554.6 41.1L555.6 41.0L556.5 40.9L557.5 40.8L558.5 40.7L559.4 40.6L560.4 40.4L561.4 40.3L562.3 40.2L563.3 40.1L564.3 40.0L565.2 39.9L566.2 39.8L567.2 39.6L568.2 39.5L569.1 39.4L570.1 39.3L571.1 39.2L572.0 39.0L573.0 38.9L574.0 38.8L574.9 38.7L575.9 38.5L576.9 38.4L577.8 38.3L578.8 38.2L579.8 38.0L580.7 37.9L581.7 37.8L582.7 37.6L583.7 37.5L584.6 37.4L585.6 37.2L586.6 37.1L587.5 37.0L588.5 36.9L589.5 36.7L590.4 36.6L591.4 36.5L592.4 36.3L593.3 36.2L594.3 36.1L595.3 35.9L596.2 35.8L597.2 35.7L598.2 35.5L599.1 35.4L600.1 35.3L601.1 35.2L602.1 35.0L603.0 34.9L604.0 34.8L605.0 34.6L605.9 34.5L606.9 34.4L607.9 34.3L608.8 34.1L609.8 34.0L610.8 33.9L611.7 33.7L612.7 33.6L613.7 33.5L614.6 33.3L615.6 33.2L616.6 33.1L617.6 33.0L618.5 32.8L619.5 32.7L620.5 32.6L621.4 32.4L622.4 32.3L623.4 32.2L624.3 32.1L625.3 31.9L626.3 31.8L627.2 31.7L628.2 31.5L629.2 31.4L630.1 31.3L631.1 31.2L632.1 31.0L633.1 30.9L634.0 30.8L635.0 30.6L636.0 30.5L636.9 30.4L637.9 30.2L638.9 30.1L639.8 30.0L640.8 29.9L641.8 29.7L642.7 29.6L643.7 29.5L644.7 29.3L645.6 29.2L646.6 29.1L647.6 29.0L648.6 28.8L649.5 28.7L650.5 28.6L651.5 28.4L652.4 28.3L653.4 28.2L654.4 28.1L655.3 27.9L656.3 27.8L657.3 27.7L658.2 27.5L659.2 27.4L660.2 27.3L661.1 27.1L662.1 27.0L663.1 26.9" fill="none" stroke="#008000" stroke-width="3.00" stroke-linejoin="round" stroke-linecap="butt"/>
<path d="M333.7 73.9L334.7 73.7L335.7 73.5L336.6 73.3L337.6 73.1L338.6 73.0L339.5 72.8L340.5 72.7L341.5 72.5L342.4 72.4L343.4 72.4L344.4 72.3L345.4 72.2L346.3 72.1L347.3 72.1L348.3 72.0L349.2 71.9L350.2 71.9L351.2 71.9L352.1 71.8L353.1 71.8L354.1 71.8L355.0 72.0L356.0 72.4L357.0 72.8L357.9 73.2L358.9 73.3L359.9 73.2L360.8 73.1L361.8 73.0L362.8 72.8L363.8 72.6L364.7 72.3L365.7 71.8L366.7 71.3L367.6 70.7L368.6 70.1L369.6 69.4L370.5 68.7L371.5 68.3L372.5 68.2L373.4 68.5L374.4 68.9L375.4 69.1L376.3 69.1L377.3 67.6L378.3 65.4L379.3 63.6L380.2 61.8L381.2 60.2L382.2 59.6L383.1 59.5L384.1 59.4L385.1 59.3L386.0 59.3L387.0 59.5L388.0 59.9L388.9 60.6L389.9 61.3L390.9 62.1L391.8 62.8L392.8 63.7L393.8 64.7L394.8 65.5L395.7 65.9L396.7 66.3L397.7 66.5L398.6 66.6L399.6 66.5L400.6 66.3L401.5 66.0L402.5 65.6L403.5 65.3L404.4 64.9L405.4 64.7L406.4 64.4L407.3 64.2L408.3 64.0L409.3 63.7L410.3 63.6L411.2 63.5L412.2 63.4L413.2 63.4L414.1 63.3L415.1 63.3L416.1 63.3L417.0 63.2L418.0 63.1L419.0 63.0L419.9 62.9L420.9 62.8L421.9 62.7L422.8 62.5L423.8 62.4L424.8 62.2L425.8 62.0L426.7 61.8L427.7 61.6L428.7 61.4L429.6 61.3L430.6 61.1L431.6 60.9L432.5 60.7L433.5 60.5L434.5 60.3L435.4 60.1L436.4 59.9L437.4 59.8L438.3 59.6L439.3 59.4L440.3 59.3L441.3 59.1L442.2 58.9L443.2 58.7L444.2 58.5L445.1 58.3L446.1 58.0L447.1 57.8L448.0 57.5L449.0 57.1L450.0 56.7L450.9 56.2L451.9 55.7L452.9 54.8L453.8 53.2L454.8 52.0L455.8 52.5L456.8 55.5L457.7 56.3L458.7 56.2L459.7 56.1L460.6 55.9L461.6 55.8L462.6 55.6L463.5 55.4L464.5 55.2L465.5 55.0L466.4 54.9L467.4 54.8L468.4 54.6L469.3 54.5L470.3 54.4L471.3 54.3L472.3 54.1L473.2 54.0L474.2 53.9L475.2 53.8L476.1 53.6L477.1 53.5L478.1 53.3L479.0 53.1L480.0 52.9L481.0 52.7L481.9 52.5L482.9 52.2L483.9 51.9L484.8 51.6L485.8 51.1L486.8 50.3L487.7 49.4L488.7 48.4L489.7 47.3L490.7 46.3L491.6 45.0L492.6 43.7L493.6 42.3L494.5 41.1L495.5 39.9L496.5 38.9L497.4 37.9L498.4 36.9L499.4 36.0L500.3 35.2L501.3 34.4L502.3 33.7L503.2 33.0L504.2 32.5L505.2 32.2L506.2 31.9L507.1 31.8L508.1 31.6L509.1 31.5L510.0 31.4L511.0 31.3L512.0 31.2L512.9 31.1L513.9 31.0L514.9 30.8L515.8 30.7L516.8 30.5L517.8 30.4L518.7 30.2L519.7 30.0L520.7 29.8L521.7 29.6L522.6 29.3L523.6 28.9L524.6 28.3L525.5 27.8L526.5 27.2L527.5 26.8L528.4 26.5L529.4 26.2L530.4 25.9L531.3 25.6L532.3 25.3L533.3 25.1L534.2 24.9L535.2 24.7L536.2 24.6L537.2 24.6L538.1 24.6L539.1 24.7L540.1 24.8L541.0 25.0L542.0 25.1L543.0 25.3L543.9 25.6L544.9 26.0L545.9 26.6L546.8 27.2L547.8 27.9L548.8 28.5L549.7 29.0L550.7 29.6L551.7 30.3L552.7 30.9L553.6 31.5L554.6 32.1L555.6 32.7L556.5 33.3L557.5 33.9L558.5 34.5L559.4 35.0L560.4 35.6L561.4 36.2L562.3 36.8L563.3 37.3L564.3 37.8L565.2 38.1L566.2 38.3L567.2 38.5L568.2 38.7L569.1 38.9L570.1 39.0L571.1 39.1L572.0 39.1L573.0 39.1L574.0 39.1L574.9 39.0L575.9 39.0L576.9 38.9L577.8 38.8L578.8 38.7L579.8 38.6L580.7 38.5L581.7 38.4L582.7 38.3L583.7 38.1L584.6 38.0L585.6 37.8L586.6 37.6L587.5 37.5L588.5 37.3L589.5 37.1L590.4 37.0L591.4 36.8L592.4 36.6L593.3 36.4L594.3 36.2L595.3 36.0L596.2 35.9L597.2 35.7L598.2 35.5L599.1 35.3L600.1 35.2L601.1 35.0L602.1 34.9L603.0 34.7L604.0 34.5L605.0 34.4L605.9 34.2L606.9 34.0L607.9 33.8L608.8 33.5L609.8 33.3L610.8 32.9L611.7 32.3L612.7 31.6L613.7 31.0L614.6 30.4L615.6 30.1L616.6 29.9L617.6 29.9L618.5 29.8L619.5 29.7L620.5 29.7L621.4 29.6L622.4 29.6L623.4 29.6L624.3 29.6L625.3 29.7L626.3 29.9L627.2 30.2L628.2 30.4L629.2 30.5L630.1 30.6L631.1 30.5L632.1 30.3L633.1 30.0L634.0 29.7L635.0 29.3L636.0 29.0L636.9 28.7L637.9 28.6L638.9 28.6L639.8 28.5L640.8 28.5L641.8 28.4L642.7 28.4L643.7 28.4L644.7 28.3L645.6 28.3L646.6 28.3L647.6 28.3L648.6 28.3L649.5 28.2L650.5 28.2L651.5 28.2L652.4 28.2L653.4 28.1L654.4 28.1L655.3 28.0L656.3 28.0L657.3 27.9L658.2 27.8L659.2 27.7L660.2 27.6L661.1 27.5L662.1 27.4L663.1 27.3" fill="none" stroke="#bf00bf" stroke-width="3.00" stroke-linejoin="round" stroke-linecap="butt" stroke-dasharray="11.5 11.5" stroke-dashoffset="14.86"/>
<path d="M333.7 73.9L334.7 73.8L335.7 73.6L336.6 73.4L337.6 73.3L338.6 73.1L339.5 73.0L340.5 72.9L341.5 72.7L342.4 72.6L343.4 72.6L344.4 72.5L345.4 72.4L346.3 72.3L347.3 72.3L348.3 72.2L349.2 72.1L350.2 72.1L351.2 72.1L352.1 72.0L353.1 72.0L354.1 72.0L355.0 72.1L356.0 72.5L357.0 72.8L357.9 73.1L358.9 73.2L359.9 73.1L360.8 72.9L361.8 72.6L362.8 72.2L363.8 71.7L364.7 71.1L365.7 70.1L366.7 68.9L367.6 67.8L368.6 67.0L369.6 66.2L370.5 65.5L371.5 64.9L372.5 64.6L373.4 64.8L374.4 65.5L375.4 66.4L376.3 67.4L377.3 68.8L378.3 69.8L379.3 69.8L380.2 69.7L381.2 69.7L382.2 69.6L383.1 69.4L384.1 69.3L385.1 69.1L386.0 69.0L387.0 68.8L388.0 68.6L388.9 68.5L389.9 68.3L390.9 68.2L391.8 68.0L392.8 67.9L393.8 67.7L394.8 67.6L395.7 67.4L396.7 67.1L397.7 66.8L398.6 66.5L399.6 65.8L400.6 64.8L401.5 63.7L402.5 62.7L403.5 62.0L404.4 61.5L405.4 60.9L406.4 60.5L407.3 60.1L408.3 59.7L409.3 59.5L410.3 59.3L411.2 59.1L412.2 59.0L413.2 58.9L414.1 59.0L415.1 60.3L416.1 62.1L417.0 63.0L418.0 63.0L419.0 62.9L419.9 62.7L420.9 62.6L421.9 62.4L422.8 62.2L423.8 61.9L424.8 61.7L425.8 61.5L426.7 61.4L427.7 61.1L428.7 60.9L429.6 60.7L430.6 60.4L431.6 60.2L432.5 59.9L433.5 59.5L434.5 59.1L435.4 58.5L436.4 57.7L437.4 57.0L438.3 56.2L439.3 55.6L440.3 55.2L441.3 54.8L442.2 54.5L443.2 54.2L444.2 53.9L445.1 53.8L446.1 53.9L447.1 54.3L448.0 54.9L449.0 55.3L450.0 55.5L450.9 55.6L451.9 55.8L452.9 55.9L453.8 56.0L454.8 56.1L455.8 56.2L456.8 56.2L457.7 56.2L458.7 56.1L459.7 56.0L460.6 55.9L461.6 55.7L462.6 55.5L463.5 55.3L464.5 55.2L465.5 55.0L466.4 54.9L467.4 54.8L468.4 54.7L469.3 54.6L470.3 54.4L471.3 54.3L472.3 54.2L473.2 54.1L474.2 53.9L475.2 53.8L476.1 53.6L477.1 53.4L478.1 53.2L479.0 53.0L480.0 52.6L481.0 51.9L481.9 51.0L482.9 50.0L483.9 49.2L484.8 48.8L485.8 48.8L486.8 48.9L487.7 49.1L488.7 49.2L489.7 49.3L490.7 49.2L491.6 49.0L492.6 48.6L493.6 48.2L494.5 47.9L495.5 47.7L496.5 47.6L497.4 47.5L498.4 47.4L499.4 47.3L500.3 47.2L501.3 47.1L502.3 47.1L503.2 47.0L504.2 46.8L505.2 46.7L506.2 46.5L507.1 46.3L508.1 46.0L509.1 45.5L510.0 45.0L511.0 44.4L512.0 43.8L512.9 43.1L513.9 42.3L514.9 41.4L515.8 40.5L516.8 39.6L517.8 38.9L518.7 38.4L519.7 37.8L520.7 37.3L521.7 36.8L522.6 36.5L523.6 36.2L524.6 36.2L525.5 36.4L526.5 36.7L527.5 37.2L528.4 37.7L529.4 38.2L530.4 38.7L531.3 39.3L532.3 39.9L533.3 40.6L534.2 41.4L535.2 42.0L536.2 42.6L537.2 43.0L538.1 43.3L539.1 43.3L540.1 43.2L541.0 43.2L542.0 43.1L543.0 42.9L543.9 42.8L544.9 42.6L545.9 42.4L546.8 42.2L547.8 42.0L548.8 41.9L549.7 41.7L550.7 41.6L551.7 41.5L552.7 41.4L553.6 41.2L554.6 41.1L555.6 41.0L556.5 40.9L557.5 40.8L558.5 40.7L559.4 40.6L560.4 40.4L561.4 40.3L562.3 40.2L563.3 40.1L564.3 40.0L565.2 39.9L566.2 39.8L567.2 39.6L568.2 39.5L569.1 39.4L570.1 39.3L571.1 39.2L572.0 39.0L573.0 38.9L574.0 38.8L574.9 38.7L575.9 38.5L576.9 38.4L577.8 38.3L578.8 38.2L579.8 38.0L580.7 37.9L581.7 37.8L582.7 37.6L583.7 37.5L584.6 37.4L585.6 37.2L586.6 37.1L587.5 37.0L588.5 36.9L589.5 36.7L590.4 36.6L591.4 36.5L592.4 36.3L593.3 36.2L594.3 36.1L595.3 35.9L596.2 35.8L597.2 35.7L598.2 35.5L599.1 35.4L600.1 35.3L601.1 35.2L602.1 35.0L603.0 34.9L604.0 34.8L605.0 34.6L605.9 34.5L606.9 34.4L607.9 34.3L608.8 34.1L609.8 34.0L610.8 33.9L611.7 33.7L612.7 33.6L613.7 33.5L614.6 33.3L615.6 33.2L616.6 33.1L617.6 33.0L618.5 32.8L619.5 32.7L620.5 32.6L621.4 32.4L622.4 32.3L623.4 32.2L624.3 32.1L625.3 31.9L626.3 31.8L627.2 31.7L628.2 31.5L629.2 31.4L630.1 31.3L631.1 31.2L632.1 31.0L633.1 30.9L634.0 30.8L635.0 30.6L636.0 30.5L636.9 30.4L637.9 30.2L638.9 30.1L639.8 30.0L640.8 29.9L641.8 29.7L642.7 29.6L643.7 29.5L644.7 29.3L645.6 29.2L646.6 29.1L647.6 29.0L648.6 28.8L649.5 28.7L650.5 28.6L651.5 28.4L652.4 28.3L653.4 28.2L654.4 28.1L655.3 27.9L656.3 27.8L657.3 27.7L658.2 27.5L659.2 27.4L660.2 27.3L661.1 27.1L662.1 27.0L663.1 26.9" fill="none" stroke="#0072bd" stroke-width="3.00" stroke-linejoin="round" stroke-linecap="butt" stroke-dasharray="3 2.8"/>
</g>
<path d="M353.10 92.30V87.80M353.10 19.30V23.80M449.97 92.30V87.80M449.97 19.30V23.80M546.84 92.30V87.80M546.84 19.30V23.80M643.71 92.30V87.80M643.71 19.30V23.80M343.40 66.80H347.90M654.00 66.80H649.50M343.40 22.70H347.90M654.00 22.70H649.50" stroke="#262626" stroke-width="2.00" fill="none"/><rect x="343.40" y="19.30" width="310.60" height="73.00" fill="none" stroke="#262626" stroke-width="2.00"/>
<text transform="translate(353.10 117.60) scale(0.940 1)" text-anchor="middle" font-size="19.5">50</text>
<text transform="translate(449.97 117.60) scale(0.940 1)" text-anchor="middle" font-size="19.5">60</text>
<text transform="translate(546.84 117.60) scale(0.940 1)" text-anchor="middle" font-size="19.5">70</text>
<text transform="translate(643.71 117.60) scale(0.940 1)" text-anchor="middle" font-size="19.5">80</text>
<text transform="translate(334.40 74.80) scale(0.940 1)" text-anchor="end" font-size="19.5">160</text>
<text transform="translate(334.40 30.70) scale(0.940 1)" text-anchor="end" font-size="19.5">165</text>
<line x1="150.57" y1="342.80" x2="150.57" y2="564.80" stroke="#e1e1e1" stroke-width="2"/><line x1="224.55" y1="342.80" x2="224.55" y2="564.80" stroke="#e1e1e1" stroke-width="2"/><line x1="298.52" y1="342.80" x2="298.52" y2="564.80" stroke="#e1e1e1" stroke-width="2"/><line x1="372.50" y1="342.80" x2="372.50" y2="564.80" stroke="#e1e1e1" stroke-width="2"/><line x1="446.48" y1="342.80" x2="446.48" y2="564.80" stroke="#e1e1e1" stroke-width="2"/><line x1="520.45" y1="342.80" x2="520.45" y2="564.80" stroke="#e1e1e1" stroke-width="2"/><line x1="594.42" y1="342.80" x2="594.42" y2="564.80" stroke="#e1e1e1" stroke-width="2"/><line x1="76.60" y1="562.50" x2="668.40" y2="562.50" stroke="#e1e1e1" stroke-width="2"/><line x1="76.60" y1="512.67" x2="668.40" y2="512.67" stroke="#e1e1e1" stroke-width="2"/><line x1="76.60" y1="462.85" x2="668.40" y2="462.85" stroke="#e1e1e1" stroke-width="2"/><line x1="76.60" y1="413.02" x2="668.40" y2="413.02" stroke="#e1e1e1" stroke-width="2"/><line x1="76.60" y1="363.20" x2="668.40" y2="363.20" stroke="#e1e1e1" stroke-width="2"/>
<path d="M76.60 564.80V558.30M76.60 342.80V349.30M150.57 564.80V558.30M150.57 342.80V349.30M224.55 564.80V558.30M224.55 342.80V349.30M298.52 564.80V558.30M298.52 342.80V349.30M372.50 564.80V558.30M372.50 342.80V349.30M446.48 564.80V558.30M446.48 342.80V349.30M520.45 564.80V558.30M520.45 342.80V349.30M594.42 564.80V558.30M594.42 342.80V349.30M668.40 564.80V558.30M668.40 342.80V349.30M76.60 562.50H83.10M668.40 562.50H661.90M76.60 512.67H83.10M668.40 512.67H661.90M76.60 462.85H83.10M668.40 462.85H661.90M76.60 413.02H83.10M668.40 413.02H661.90M76.60 363.20H83.10M668.40 363.20H661.90" stroke="#262626" stroke-width="2.00" fill="none"/><rect x="76.60" y="342.80" width="591.80" height="222.00" fill="none" stroke="#262626" stroke-width="2.00"/>
<clipPath id="c2"><rect x="74.60" y="340.80" width="595.80" height="226.00"/></clipPath>
<g clip-path="url(#c2)">
<path d="M76.6 562.5L103.9 562.5L104.4 562.1L104.9 561.7L105.4 561.2L105.9 560.6L106.4 560.0L106.9 559.4L107.4 558.7L107.9 558.0L108.4 557.2L108.9 556.4L109.4 555.4L109.9 554.4L110.4 553.4L110.9 552.4L111.4 551.3L111.9 550.2L112.4 549.1L112.9 547.9L113.4 546.7L113.9 545.4L114.4 544.1L114.9 542.8L115.4 541.6L115.9 540.3L116.4 539.0L116.9 537.7L117.4 536.3L117.9 535.0L118.4 533.7L118.9 532.3L119.4 530.9L119.9 529.6L120.4 528.2L120.9 526.8L121.4 525.3L121.9 523.8L122.4 522.4L122.9 520.9L123.4 519.5L123.9 518.2L124.4 517.0L124.9 515.8L125.4 514.6L125.9 513.5L126.4 512.4L126.9 511.3L127.4 510.4L127.9 509.6L128.4 508.8L128.9 508.1L129.4 507.3L129.9 506.7L130.4 506.1L130.9 505.5L131.4 505.1L131.9 504.7L132.4 504.3L132.9 504.0L133.4 503.7L133.9 503.4L134.4 503.2L134.9 503.0L135.4 502.9L135.9 502.9L136.4 503.0L136.9 503.1L137.4 503.3L137.9 503.6L138.4 503.9L138.9 504.2L139.4 504.5L139.9 504.9L140.4 505.5L140.9 506.2L141.4 507.0L141.9 507.9L142.4 508.8L142.9 509.7L143.4 510.6L143.9 511.5L144.4 512.5L144.9 513.5L145.4 514.6L145.9 515.8L146.4 517.0L146.9 518.4L147.4 519.8L147.9 521.4L148.4 523.1L148.9 525.0L149.4 527.0L149.9 529.2L150.4 531.5L150.5 532.0L151.0 545.0L151.4 562.5L152.6 562.5L153.3 488.0L154.0 562.5L157.6 562.5L158.3 524.0L159.0 562.5L162.6 562.5L164.0 530.0L165.4 562.5L166.6 562.5L167.3 538.0L168.0 562.5L170.4 562.5L171.7 431.0L172.9 562.5L174.3 520.0L175.2 562.5L177.0 478.0L178.3 530.0L179.4 556.0L181.0 562.5L668.4 562.5" fill="none" stroke="#008000" stroke-width="3.00" stroke-linejoin="round" stroke-linecap="butt"/>
<path d="M76.6 562.5L99.0 562.5L99.5 561.5L100.0 560.5L100.5 559.5L101.0 558.5L101.5 557.5L102.0 556.5L102.5 555.5L103.0 554.5L103.5 553.5L104.0 552.4L104.5 551.2L105.0 549.9L105.5 548.8L106.0 548.0L106.5 547.5L107.0 547.3L107.5 547.0L108.0 546.9L108.5 546.7L109.0 546.6L109.5 546.5L110.0 546.5L110.5 547.0L111.0 548.0L111.5 549.0L112.0 549.5L112.5 549.4L113.0 549.0L113.5 548.5L114.0 547.8L114.5 547.0L115.0 545.5L115.5 542.9L116.0 539.7L116.5 536.4L117.0 533.5L117.5 531.0L118.0 528.5L118.5 526.2L119.0 523.8L119.5 521.5L120.0 519.0L120.5 516.4L121.0 513.9L121.5 511.8L122.0 510.5L122.5 509.7L123.0 508.9L123.5 508.2L124.0 507.6L124.5 507.2L125.0 506.8L125.5 506.6L126.0 506.5L126.5 506.7L127.0 507.2L127.5 507.9L128.0 508.8L128.5 509.6L129.0 510.3L129.5 510.8L130.0 511.0L130.5 510.5L131.0 509.1L131.5 507.2L132.0 505.1L132.5 503.1L133.0 501.5L133.5 500.2L134.0 498.9L134.5 497.5L135.0 496.3L135.5 495.2L136.0 494.3L136.5 493.7L137.0 493.5L137.5 493.6L138.0 493.8L138.5 494.1L139.0 494.6L139.5 495.2L140.0 495.9L140.5 496.6L141.0 497.5L141.5 499.3L142.0 502.5L142.5 506.0L143.0 509.1L143.5 511.0L144.0 512.3L144.5 513.4L145.0 514.4L145.5 515.4L146.0 516.5L146.5 517.7L147.0 519.0L147.5 520.3L148.0 521.8L148.5 523.5L149.0 525.5L149.5 528.0L150.0 530.7L150.4 533.0L150.8 545.0L151.2 562.5L152.6 562.5L153.3 441.0L154.0 562.5L157.6 562.5L158.3 518.0L159.0 562.5L164.3 562.5L165.2 512.0L166.1 562.5L171.2 562.5" fill="none" stroke="#bf00bf" stroke-width="3.00" stroke-linejoin="round" stroke-linecap="butt" stroke-dasharray="11.5 11.5" stroke-dashoffset="5.04"/>
<path d="M171.2 562.5L172.0 480.0L172.5 437.0L172.6 404.0L173.4 385.0L175.3 372.0L176.4 358.0L177.4 345.2" fill="none" stroke="#bf00bf" stroke-width="3.00" stroke-linejoin="round" stroke-linecap="butt" stroke-dasharray="11.5 11.5" stroke-dashoffset="0.96"/>
<path d="M177.4 345.2L178.2 350.0L179.2 380.0L180.1 403.0L180.7 426.0L181.1 449.0L181.5 520.0L181.8 562.5L186.0 562.5L187.8 545.0L189.5 562.5L191.2 562.5L193.3 532.0L195.2 562.5L668.4 562.5" fill="none" stroke="#bf00bf" stroke-width="3.00" stroke-linejoin="round" stroke-linecap="butt" stroke-dasharray="11.5 11.5" stroke-dashoffset="17.00"/>
<path d="M76.6 562.5L103.9 562.5L104.4 562.1L104.9 561.7L105.4 561.2L105.9 560.6L106.4 560.0L106.9 559.4L107.4 558.7L107.9 558.0L108.4 557.2L108.9 556.4L109.4 555.4L109.9 554.4L110.4 553.4L110.9 552.4L111.4 551.3L111.9 550.2L112.4 549.1L112.9 547.9L113.4 546.7L113.9 545.4L114.4 544.1L114.9 542.8L115.4 541.6L115.9 540.3L116.4 539.0L116.9 537.7L117.4 536.3L117.9 535.0L118.4 533.7L118.9 532.3L119.4 530.9L119.9 529.6L120.4 528.2L120.9 526.8L121.4 525.3L121.9 523.8L122.4 522.4L122.9 520.9L123.4 519.5L123.9 518.2L124.4 517.0L124.9 515.8L125.4 514.6L125.9 513.5L126.4 512.4L126.9 511.3L127.4 510.4L127.9 509.6L128.4 508.8L128.9 508.1L129.4 507.3L129.9 506.7L130.4 506.1L130.9 505.5L131.4 505.1L131.9 504.7L132.4 504.3L132.9 504.0L133.4 503.7L133.9 503.4L134.4 503.2L134.9 503.0L135.4 502.9L135.9 502.9L136.4 503.0L136.9 503.1L137.4 503.3L137.9 503.6L138.4 503.9L138.9 504.2L139.4 504.5L139.9 504.9L140.4 505.5L140.9 506.2L141.4 507.0L141.9 507.9L142.4 508.8L142.9 509.7L143.4 510.6L143.9 511.5L144.4 512.5L144.9 513.5L145.4 514.6L145.9 515.8L146.4 517.0L146.9 518.4L147.4 519.8L147.9 521.4L148.4 523.1L148.9 525.0L149.4 527.0L149.9 529.2L150.4 531.5L150.5 532.0L151.0 545.0L151.4 562.5L152.6 562.5L153.4 490.0L154.1 562.5L157.6 562.5L158.3 511.0L159.0 562.5L162.4 562.5L164.0 514.0L165.6 562.5L166.4 562.5L167.2 516.0L168.0 562.5L170.6 562.5L171.8 470.0L173.0 562.5L174.6 500.0L175.4 562.5L176.6 455.0L177.8 490.0L178.9 535.0L180.0 558.0L181.0 562.5L668.4 562.5" fill="none" stroke="#0072bd" stroke-width="3.00" stroke-linejoin="round" stroke-linecap="butt" stroke-dasharray="3 2.8"/>
</g>
<text transform="translate(76.60 594.40) scale(0.930 1)" text-anchor="middle" font-size="24.5">0</text>
<text transform="translate(150.57 594.40) scale(0.930 1)" text-anchor="middle" font-size="24.5">50</text>
<text transform="translate(224.55 594.40) scale(0.930 1)" text-anchor="middle" font-size="24.5">100</text>
<text transform="translate(298.52 594.40) scale(0.930 1)" text-anchor="middle" font-size="24.5">150</text>
<text transform="translate(372.50 594.40) scale(0.930 1)" text-anchor="middle" font-size="24.5">200</text>
<text transform="translate(446.48 594.40) scale(0.930 1)" text-anchor="middle" font-size="24.5">250</text>
<text transform="translate(520.45 594.40) scale(0.930 1)" text-anchor="middle" font-size="24.5">300</text>
<text transform="translate(594.42 594.40) scale(0.930 1)" text-anchor="middle" font-size="24.5">350</text>
<text transform="translate(668.40 594.40) scale(0.930 1)" text-anchor="middle" font-size="24.5">400</text>
<text transform="translate(68.10 571.00) scale(0.930 1)" text-anchor="end" font-size="24.5">0</text>
<text transform="translate(68.10 521.17) scale(0.930 1)" text-anchor="end" font-size="24.5">0.5</text>
<text transform="translate(68.10 471.35) scale(0.930 1)" text-anchor="end" font-size="24.5">1</text>
<text transform="translate(68.10 421.52) scale(0.930 1)" text-anchor="end" font-size="24.5">1.5</text>
<text transform="translate(68.10 371.70) scale(0.930 1)" text-anchor="end" font-size="24.5">2</text>
<text transform="translate(352.43 622.00) scale(1.100 1)" font-size="27.50" font-style="italic">t</text><text transform="translate(363.94 622.30) scale(0.850 1)" font-size="27.00">(</text><text transform="translate(372.00 622.00) scale(1.000 1)" font-size="23.50">s</text><text transform="translate(382.66 622.30) scale(0.850 1)" font-size="27.00">)</text>
<g transform="translate(24.40 500.00) rotate(-90)"><text transform="translate(1.75 0.00) scale(1.000 1)" font-size="25.00" font-style="italic">e</text><text transform="translate(13.00 3.80) scale(1.000 1)" font-size="17.50" font-style="italic">V</text><text transform="translate(30.14 0.30) scale(0.850 1)" font-size="27.00">(</text><text transform="translate(38.60 0.00) scale(1.000 1)" font-size="25.00">m</text><text transform="translate(71.60 0.00) scale(1.000 1)" font-size="24.00">s</text><text transform="translate(82.76 0.30) scale(0.850 1)" font-size="27.00">)</text></g>
<line x1="30.0" y1="439.0" x2="6.2" y2="430.1" stroke="#000" stroke-width="1.3"/>
<rect x="519.80" y="459.60" width="138.60" height="77.70" fill="#fff" stroke="#262626" stroke-width="2"/>
<path d="M526.0 474.7L583.6 474.7" fill="none" stroke="#008000" stroke-width="3.00" stroke-linejoin="round" stroke-linecap="butt"/>
<text x="588.5" y="482.00" font-size="20.5" letter-spacing="0.15">PFTCC</text>
<path d="M526.0 498.9L583.6 498.9" fill="none" stroke="#bf00bf" stroke-width="3.00" stroke-linejoin="round" stroke-linecap="butt" stroke-dasharray="11.5 11.5"/>
<text x="588.5" y="506.20" font-size="20.5" letter-spacing="0.15">ITCC</text>
<path d="M526.0 523.5L583.6 523.5" fill="none" stroke="#0072bd" stroke-width="3.00" stroke-linejoin="round" stroke-linecap="butt" stroke-dasharray="3 2.8"/>
<text x="588.5" y="530.80" font-size="20.5" letter-spacing="0.15">CFTC</text>
</svg>
</body></html>
